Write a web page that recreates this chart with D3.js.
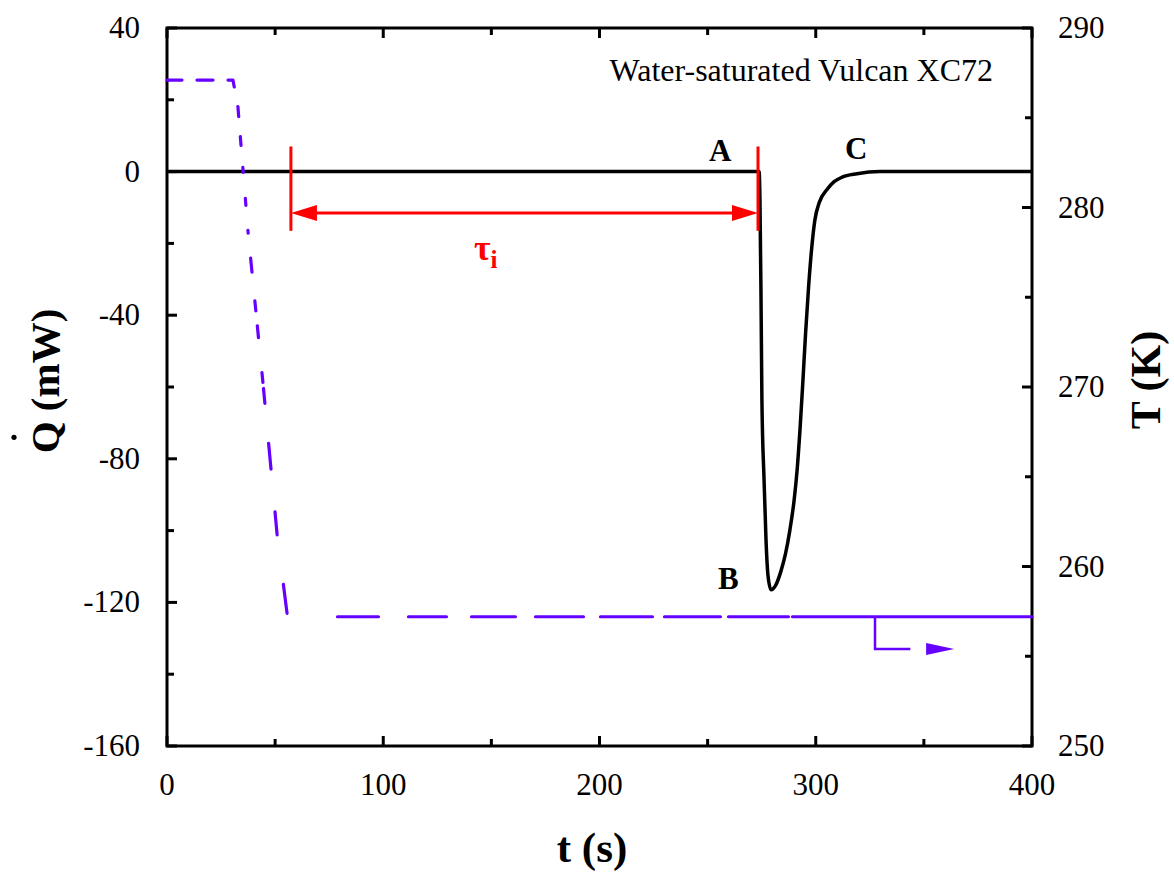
<!DOCTYPE html>
<html>
<head>
<meta charset="utf-8">
<script src="https://cdn.jsdelivr.net/npm/d3@7"></script>
<style>
  body { margin: 0; background: #fff; }
  text { font-family: "Liberation Serif", "Times New Roman", serif; }
</style>
</head>
<body>
<div id="chart"></div>
<script>
// heat flow Q (mW) vs time (s)
var heatTime = [0, 100, 200, 260, 270, 273, 273.8, 274.2, 274.7, 275.1, 276.1, 277, 277.9, 279.3, 281.5, 283.8, 286, 288, 290, 291.4, 292.7, 294, 295.3, 296.7, 298.1, 299.6, 301.7, 305.2, 308.5, 312, 319.1, 329.7, 360, 400];
var heatFlow = [0, 0, 0, 0, 0, 0, 0, -7.9, -35.8, -63.6, -85.9, -102.6, -112.4, -116.5, -115.2, -111.5, -106.5, -100, -91.5, -83, -72, -59, -45, -32, -21.5, -13.5, -8.5, -5.0, -2.8, -1.6, -0.6, 0, 0, 0];

// temperature T (K) vs time (s)
var tempTime = [0, 30.5, 32.8, 37.5, 44.4, 50.9, 55.5, 57, 400];
var tempK    = [287.1, 287.1, 285.6, 278.6, 270.2, 261.8, 257.4, 257.2, 257.2];

var xTicks = [0, 100, 200, 300, 400];
var qTicks = [40, 0, -40, -80, -120, -160];
var tTicks = [290, 280, 270, 260, 250];

// induction time marker (s)
var tauStart = 57.3, tauEnd = 273.3;

var W = 1174, H = 872;
var margin = { top: 28, right: 142, bottom: 126, left: 167 };

var svg = d3.select('#chart').append('svg')
  .attr('width', W)
  .attr('height', H);

var x = d3.scaleLinear().domain([0, 400]).range([margin.left, W - margin.right]);
var yQ = d3.scaleLinear().domain([-160, 40]).range([H - margin.bottom, margin.top]);
var yT = d3.scaleLinear().domain([250, 290]).range([H - margin.bottom, margin.top]);

var x0 = x.range()[0], x1 = x.range()[1];
var y0 = yQ.range()[0], y1 = yQ.range()[1];

//////////////// ticks (inward, major + minor) ////////////////
var tickG = svg.append('g').attr('stroke', '#000').attr('stroke-width', 3);

d3.range(0, 401, 50).forEach(function(v) {
  var len = (v % 100 === 0) ? 10 : 7;
  tickG.append('line').attr('x1', x(v)).attr('x2', x(v)).attr('y1', y0).attr('y2', y0 - len);
  tickG.append('line').attr('x1', x(v)).attr('x2', x(v)).attr('y1', y1).attr('y2', y1 + len);
});
d3.range(-160, 41, 20).forEach(function(v) {
  var len = (v % 40 === 0) ? 10 : 7;
  tickG.append('line').attr('x1', x0).attr('x2', x0 + len).attr('y1', yQ(v)).attr('y2', yQ(v));
});
d3.range(250, 291, 5).forEach(function(v) {
  var len = (v % 10 === 0) ? 10 : 7;
  tickG.append('line').attr('x1', x1).attr('x2', x1 - len).attr('y1', yT(v)).attr('y2', yT(v));
});

// frame
svg.append('rect')
  .attr('x', x0).attr('y', y1)
  .attr('width', x1 - x0).attr('height', y0 - y1)
  .attr('fill', 'none').attr('stroke', '#000').attr('stroke-width', 3);

//////////////// tick labels ////////////////
svg.append('g').selectAll('text').data(xTicks).enter().append('text')
  .attr('x', function(d) { return x(d); })
  .attr('y', y0 + 49)
  .attr('text-anchor', 'middle')
  .attr('font-size', 31)
  .text(function(d) { return d; });

svg.append('g').selectAll('text').data(qTicks).enter().append('text')
  .attr('x', x0 - 27)
  .attr('y', function(d) { return yQ(d) + 10; })
  .attr('text-anchor', 'end')
  .attr('font-size', 31)
  .text(function(d) { return d; });

svg.append('g').selectAll('text').data(tTicks).enter().append('text')
  .attr('x', x1 + 26)
  .attr('y', function(d) { return yT(d) + 10; })
  .attr('text-anchor', 'start')
  .attr('font-size', 31)
  .text(function(d) { return d; });

//////////////// axis titles ////////////////
svg.append('text')
  .attr('x', 592).attr('y', 862)
  .attr('text-anchor', 'middle')
  .attr('font-size', 43).attr('font-weight', 'bold')
  .text('t (s)');

var qTitle = svg.append('g').attr('transform', 'translate(59,' + 381 + ') rotate(-90)');
var qText = qTitle.append('text')
  .attr('x', 0).attr('y', 0)
  .attr('text-anchor', 'middle')
  .attr('font-size', 41).attr('font-weight', 'bold')
  .text('Q (mW)');
// dot over Q
var qLen = qText.node().getComputedTextLength();
var qW = qText.node().getSubStringLength(0, 1);
qTitle.append('circle')
  .attr('cx', -qLen / 2 + qW / 2)
  .attr('cy', -45)
  .attr('r', 2.6)
  .attr('fill', '#000');

svg.append('g').attr('transform', 'translate(1160,' + 380 + ') rotate(-90)')
  .append('text')
  .attr('text-anchor', 'middle')
  .attr('font-size', 42).attr('font-weight', 'bold')
  .text('T (K)');

//////////////// curves ////////////////
var heatLine = d3.line()
  .x(function(d) { return x(d[0]); })
  .y(function(d) { return yQ(d[1]); })
  .curve(d3.curveMonotoneX);

svg.append('path')
  .datum(d3.zip(heatTime, heatFlow))
  .attr('d', heatLine)
  .attr('fill', 'none')
  .attr('stroke', '#000')
  .attr('stroke-width', 3.5)
  .attr('stroke-linejoin', 'round');

var tempLine = d3.line()
  .x(function(d) { return x(d[0]); })
  .y(function(d) { return yT(d[1]); });

svg.append('path')
  .datum(d3.zip(tempTime, tempK))
  .attr('d', tempLine)
  .attr('fill', 'none')
  .attr('stroke', '#6600ff')
  .attr('stroke-width', 3.2)
  .attr('stroke-linecap', 'round')
  .attr('stroke-linejoin', 'round')
  .attr('stroke-dasharray', '15,15,16,15,12,20,10,20,9,22,5,26,7,25,3,25,14,29,10,15,12,35,10,6,15,40,26,43,23,50,29,52,41,30,38,25,44,20,48,17,52,12,56,8,60,4,2000,0');

//////////////// annotations ////////////////
var red = '#ff0000';
var annG = svg.append('g');
annG.append('line')
  .attr('x1', x(tauStart)).attr('x2', x(tauStart))
  .attr('y1', yQ(7)).attr('y2', yQ(-16.5))
  .attr('stroke', red).attr('stroke-width', 3);
annG.append('line')
  .attr('x1', x(tauEnd)).attr('x2', x(tauEnd))
  .attr('y1', yQ(7)).attr('y2', yQ(-16.5))
  .attr('stroke', red).attr('stroke-width', 3);

var arrowY = yQ(-11.5);
annG.append('line')
  .attr('x1', x(tauStart) + 10).attr('x2', x(tauEnd) - 10)
  .attr('y1', arrowY).attr('y2', arrowY)
  .attr('stroke', red).attr('stroke-width', 3);
// arrow heads
annG.append('path')
  .attr('d', 'M' + x(tauStart) + ',' + arrowY + 'l26,-8l0,16z')
  .attr('fill', red);
annG.append('path')
  .attr('d', 'M' + x(tauEnd) + ',' + arrowY + 'l-26,-8l0,16z')
  .attr('fill', red);

var tau = annG.append('text')
  .attr('x', 474).attr('y', 260)
  .attr('font-size', 36).attr('font-weight', 'bold')
  .attr('fill', red);
tau.append('tspan').text('\u03c4');
tau.append('tspan').attr('dy', 8).attr('font-size', 25).text('i');

// temperature axis pointer
var purple = '#6600ff';
var pX = x(327.4), pY = yT(257.2), pY2 = yT(255.4);
annG.append('path')
  .attr('d', 'M' + pX + ',' + pY + 'L' + pX + ',' + pY2 + 'L' + (x(353) - 20) + ',' + pY2)
  .attr('fill', 'none').attr('stroke', purple).attr('stroke-width', 2.5);
annG.append('path')
  .attr('d', 'M' + x(364) + ',' + pY2 + 'l-28,-6l0,12z')
  .attr('fill', purple);

// point labels
var labelG = svg.append('g').attr('font-size', 31).attr('font-weight', 'bold');
labelG.append('text').attr('x', 709).attr('y', 161).text('A');
labelG.append('text').attr('x', 718).attr('y', 589).text('B');
labelG.append('text').attr('x', 845).attr('y', 159).text('C');

svg.append('text')
  .attr('x', 993).attr('y', 81)
  .attr('text-anchor', 'end')
  .attr('font-size', 32)
  .text('Water-saturated Vulcan XC72');
</script>
</body>
</html>
